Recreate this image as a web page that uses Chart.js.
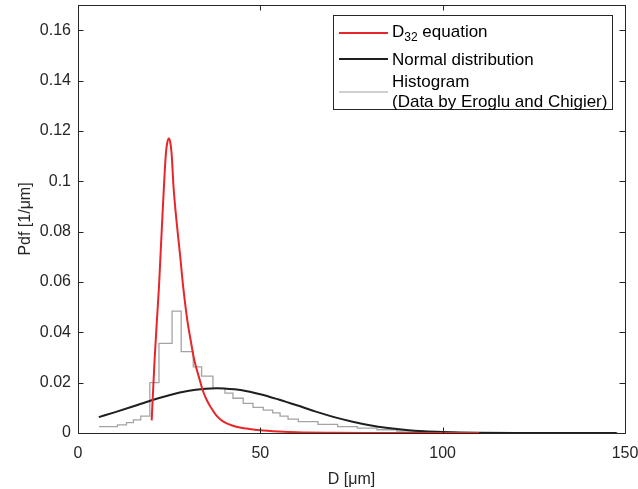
<!DOCTYPE html>
<html>
<head>
<meta charset="utf-8">
<script src="https://cdn.jsdelivr.net/npm/chart.js@4/dist/chart.umd.min.js"></script>
<style>
  html, body { margin: 0; padding: 0; background: #fff; }
  #wrap { width: 638px; height: 489px; }
</style>
</head>
<body>
<div id="wrap"><canvas id="pdf" width="638" height="489"></canvas></div>
<script>
// D32 equation curve
const d32X = [20.2, 20.6, 21.0, 21.64, 22.2, 22.65, 23.1, 23.56, 24.1, 24.5, 24.93, 25.3, 25.67, 26.2, 27.0, 27.95, 28.85, 29.95, 31.0, 31.6, 32.1, 33.4, 34.2, 35.3, 36.6, 37.7, 38.9, 40.5, 42.5, 44.4, 47, 49.9, 55, 60, 70, 80, 90, 100, 110];
const d32Pdf = [0.005, 0.017, 0.029, 0.0448, 0.058, 0.0713, 0.0845, 0.0977, 0.111, 0.1155, 0.117, 0.1155, 0.111, 0.0977, 0.0845, 0.0713, 0.058, 0.045, 0.036, 0.031, 0.0277, 0.021, 0.017, 0.0131, 0.0098, 0.0074, 0.0056, 0.0040, 0.0029, 0.0022, 0.0016, 0.0011, 0.0006, 0.0003, 0.0001, 0.00003, 0, 0, 0];

// normal distribution
const normalX = [5.7, 10, 15, 20, 25, 30, 35, 38, 40, 45, 50, 55, 60, 65, 70, 75, 80, 85, 90, 95, 100, 105, 110, 120, 130, 140, 147.7];
const normalPdf = [0.0063, 0.0082, 0.0105, 0.0129, 0.0150, 0.0167, 0.0176, 0.0178, 0.0177, 0.0170, 0.0154, 0.0133, 0.0110, 0.0086, 0.0064, 0.0046, 0.0031, 0.0020, 0.0012, 0.0007, 0.0004, 0.0002, 0.0001, 0.00002, 0, 0, 0];

// histogram (Eroglu and Chigier): bin edges and heights
const histEdges = [5.75, 10.8, 13.3, 15.2, 17.2, 19.7, 22.2, 25.8, 28.3, 31.6, 33.9, 37.0, 40.3, 42.5, 45.3, 48.0, 50.8, 53.4, 55.4, 57.6, 60.4, 65.8, 71.2, 76.6, 82.0, 87.4, 92.8, 98.2, 103.6, 109, 148];
const histPdf = [0.0025, 0.0032, 0.0041, 0.0052, 0.0067, 0.0200, 0.0356, 0.0484, 0.0323, 0.0263, 0.0226, 0.0177, 0.0158, 0.0138, 0.0118, 0.0102, 0.0091, 0.0080, 0.0067, 0.0055, 0.0045, 0.0034, 0.0025, 0.0019, 0.0013, 0.0008, 0.0004, 0.0002, 0.0001, 0.0000];

const xTicks = [0, 50, 100, 150];
const yTicks = [0, 0.02, 0.04, 0.06, 0.08, 0.1, 0.12, 0.14, 0.16];

const FONT = "'Liberation Sans', Arial, Helvetica, sans-serif";
const AXIS = "#262626";
Chart.defaults.font.family = FONT;
Chart.defaults.color = AXIS;

const histPoints = histEdges.map((x, i) => ({ x: x, y: histPdf[Math.min(i, histPdf.length - 1)] }));

function noPad(s) {
  s.paddingLeft = 0; s.paddingRight = 0; s.paddingTop = 0; s.paddingBottom = 0;
}

// box, inward ticks and legend like the original figure
const matlabBox = {
  id: "matlabBox",
  afterDatasetsDraw(chart) {
    const { ctx, chartArea: a, scales } = chart;
    const tl = 5.5;
    ctx.save();
    ctx.strokeStyle = AXIS;
    ctx.lineWidth = 1;
    ctx.beginPath();
    xTicks.forEach(v => {
      const px = Math.round(scales.x.getPixelForValue(v)) + 0.5;
      ctx.moveTo(px, a.bottom); ctx.lineTo(px, a.bottom - tl);
      ctx.moveTo(px, a.top); ctx.lineTo(px, a.top + tl);
    });
    yTicks.forEach(v => {
      const py = Math.round(scales.y.getPixelForValue(v)) + 0.5;
      ctx.moveTo(a.left, py); ctx.lineTo(a.left + tl, py);
      ctx.moveTo(a.right, py); ctx.lineTo(a.right - tl, py);
    });
    ctx.stroke();
    ctx.strokeRect(Math.round(a.left) + 0.5, Math.round(a.top) + 0.5, Math.round(a.right - a.left), Math.round(a.bottom - a.top));

    // legend
    const lx = 333.5, ly = 15.5, lw = 279, lh = 94;
    ctx.fillStyle = "#fff";
    ctx.fillRect(lx, ly, lw, lh);
    ctx.strokeStyle = AXIS;
    ctx.strokeRect(lx, ly, lw, lh);
    const items = [
      { color: "#e8262a", width: 2, y: 33 },
      { color: "#1f1f1f", width: 2, y: 59 },
      { color: "#c0c0c0", width: 1.5, y: 92 }
    ];
    items.forEach(it => {
      ctx.strokeStyle = it.color;
      ctx.lineWidth = it.width;
      ctx.beginPath();
      ctx.moveTo(339, it.y);
      ctx.lineTo(388, it.y);
      ctx.stroke();
    });
    ctx.fillStyle = "#000";
    ctx.textBaseline = "middle";
    ctx.textAlign = "left";
    ctx.font = "17px " + FONT;
    let tx = 392;
    ctx.fillText("D", tx, 32);
    tx += ctx.measureText("D").width;
    ctx.font = "12px " + FONT;
    ctx.fillText("32", tx, 38);
    tx += ctx.measureText("32").width;
    ctx.font = "17px " + FONT;
    ctx.fillText(" equation", tx, 32);
    ctx.fillText("Normal distribution", 392, 60);
    ctx.fillText("Histogram", 392, 82);
    ctx.fillText("(Data by Eroglu and Chigier)", 392, 102);
    ctx.restore();
  }
};

const ctx = document.getElementById("pdf").getContext("2d");
const pdfChart = new Chart(ctx, {
  type: "scatter",
  data: {
    datasets: [
      {
        label: "D32 equation",
        data: d32X.map((x, i) => ({ x: x, y: d32Pdf[i] })),
        showLine: true,
        borderColor: "#e8262a",
        borderWidth: 2,
        pointRadius: 0,
        cubicInterpolationMode: "monotone",
        order: 0
      },
      {
        label: "Normal distribution",
        data: normalX.map((x, i) => ({ x: x, y: normalPdf[i] })),
        showLine: true,
        borderColor: "#1f1f1f",
        borderWidth: 2,
        pointRadius: 0,
        cubicInterpolationMode: "monotone",
        order: 1
      },
      {
        label: "Histogram",
        data: histPoints,
        showLine: true,
        stepped: "before",
        borderColor: "#a4a4a4",
        borderWidth: 1.3,
        pointRadius: 0,
        order: 2
      }
    ]
  },
  options: {
    responsive: false,
    animation: false,
    layout: { padding: { top: 5, right: 13, left: 0, bottom: 0 } },
    plugins: {
      legend: { display: false },
      tooltip: { enabled: false }
    },
    scales: {
      x: {
        type: "linear",
        min: 0,
        max: 150,
        afterFit: (s) => { s.height = 56; noPad(s); },
        afterBuildTicks: (s) => { s.ticks = xTicks.map(v => ({ value: v })); },
        grid: { display: false, drawTicks: false },
        border: { display: false },
        ticks: { padding: 11, font: { size: 16 }, color: AXIS, maxRotation: 0 },
        title: { display: true, text: "D [μm]", font: { size: 16 }, color: AXIS, padding: { top: 0, bottom: 0 } }
      },
      y: {
        type: "linear",
        min: 0,
        max: 0.17,
        afterFit: (s) => { s.width = 78; noPad(s); },
        afterBuildTicks: (s) => { s.ticks = yTicks.map(v => ({ value: v })); },
        grid: { display: false, drawTicks: false },
        border: { display: false },
        ticks: {
          padding: 7,
          font: { size: 16 },
          color: AXIS,
          callback: (v) => String(+v.toFixed(2))
        },
        title: { display: true, text: "Pdf [1/μm]", font: { size: 16 }, color: AXIS, padding: { top: 16, bottom: 0 } }
      }
    }
  },
  plugins: [matlabBox]
});
</script>
</body>
</html>
